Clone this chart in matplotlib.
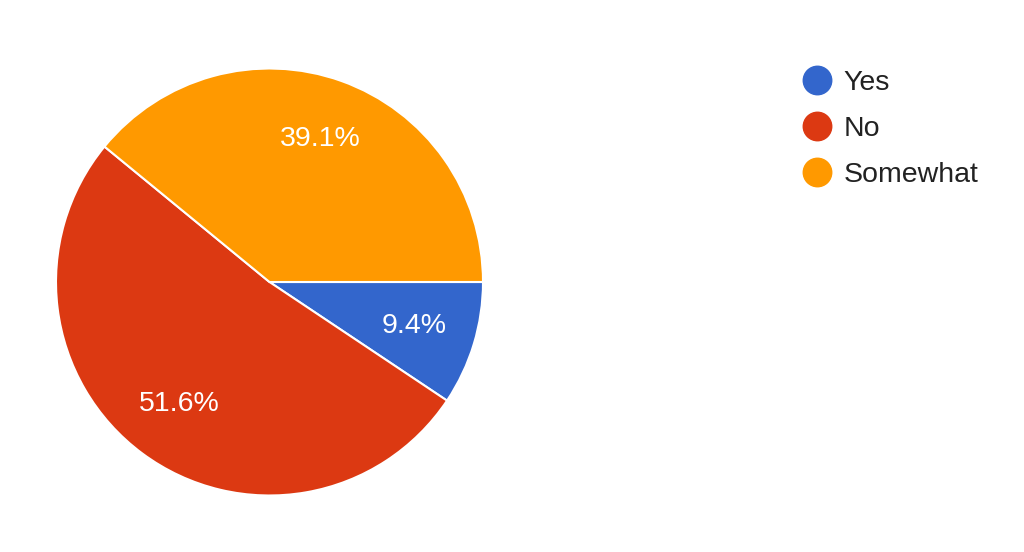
import matplotlib
matplotlib.use("Agg")
import matplotlib.pyplot as plt
from matplotlib.lines import Line2D

# survey answers (counts out of 64)
labels = ["Yes", "No", "Somewhat"]
counts = [6, 33, 25]
colors = ["#3366CC", "#DC3912", "#FF9900"]

plt.rcParams['font.family'] = ['Liberation Sans', 'DejaVu Sans']

W, H = 1024, 552
fig = plt.figure(figsize=(W / 100, H / 100), dpi=100)

# pie axes placed so the circle sits at (269, 282) px with radius 213 px
cx, cy, r = 269.5, 282, 213.5
ax = fig.add_axes([(cx - r) / W, (H - cy - r) / H, 2 * r / W, 2 * r / H])
wedges, texts, autotexts = ax.pie(
    counts, colors=colors, startangle=0, counterclock=False,
    autopct='%1.1f%%', pctdistance=0.71, radius=1,
    wedgeprops=dict(edgecolor='white', linewidth=1.5),
    textprops=dict(color='white', fontsize=20.5))
ax.set_xlim(-1, 1)
ax.set_ylim(-1, 1)
ax.set_aspect('equal')
ax.axis('off')

handles = [Line2D([], [], marker='o', linestyle='none', markersize=20.5,
                  markerfacecolor=c, markeredgecolor=c) for c in colors]
leg = fig.legend(handles, labels, loc='upper left',
                 bbox_to_anchor=(791 / W, 1 - 59 / H),
                 frameon=False, fontsize=20.5, labelspacing=0.7,
                 handlelength=1.0, handletextpad=0.45, borderaxespad=0)
for t in leg.get_texts():
    t.set_color('#222222')

fig.savefig("out.png", dpi=100)
